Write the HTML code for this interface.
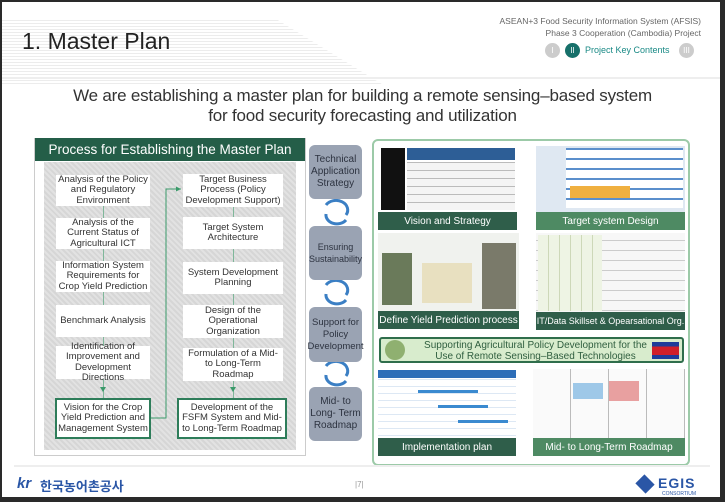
<!DOCTYPE html><html><head><meta charset="utf-8"><style>
*{margin:0;padding:0;box-sizing:border-box}
body{width:725px;height:502px;background:#2a2a2a;position:relative;overflow:hidden;font-family:"Liberation Sans","Noto Sans CJK KR",sans-serif}
.a{position:absolute}
.slide{left:2px;top:2px;width:718px;height:495px;background:#fff}
.bx{position:absolute;background:#fff;display:flex;align-items:center;justify-content:center;text-align:center;font-size:9.5px;line-height:10.5px;color:#333;padding:0 1px}
.g{border:2px solid #2e7d5a;padding:0}
.mid{position:absolute;left:309px;width:53px;background:#9aa3b3;border-radius:6px;display:flex;align-items:center;justify-content:center;text-align:center;font-size:10px;line-height:12px;color:#2d3340}
.tile{position:absolute;overflow:hidden}
.lab{position:absolute;left:0;right:0;bottom:0;height:18px;background:#2f5e4a;color:#fff;font-size:10px;white-space:nowrap;display:flex;align-items:center;justify-content:center}
.lab2{background:#4e8a63}
.vl{position:absolute;width:1px;background:#7fb79a}
</style></head><body>
<div class="a slide"></div>
<div class="a" style="left:2px;top:20px;width:383px;height:66px;background:repeating-linear-gradient(0deg,#fff 0 2px,#ececec 2px 3px);clip-path:polygon(0 0,72% 0,100% 100%,0 100%)"></div>
<div class="a" style="left:22px;top:28px;font-size:23px;color:#222">1. Master Plan</div>
<div class="a" style="right:24px;top:15px;font-size:8.5px;color:#666;text-align:right;line-height:12px">ASEAN+3 Food Security Information System (AFSIS)<br>Phase 3 Cooperation (Cambodia) Project</div>
<div class="a" style="left:545px;top:43px;width:15px;height:15px;border-radius:50%;background:#ccc;color:#fff;font-size:8px;text-align:center;line-height:15px">I</div>
<div class="a" style="left:565px;top:43px;width:15px;height:15px;border-radius:50%;background:#17706a;color:#fff;font-size:8px;text-align:center;line-height:15px">II</div>
<div class="a" style="left:585px;top:45px;font-size:9px;color:#1a8a86">Project Key Contents</div>
<div class="a" style="left:679px;top:43px;width:15px;height:15px;border-radius:50%;background:#ccc;color:#fff;font-size:8px;text-align:center;line-height:15px">III</div>
<div class="a" style="left:2px;top:77px;width:718px;height:2px;background:#eee"></div>
<div class="a" style="left:0;width:725px;top:86px;text-align:center;font-size:17px;line-height:20px;color:#333;letter-spacing:-0.2px">We are establishing a master plan for building a remote sensing–based system<br>for food security forecasting and utilization</div>

<div class="a" style="left:34px;top:138px;width:272px;height:318px;border:1px solid #ccc;background:#fff"></div>
<div class="a" style="left:35px;top:138px;width:270px;height:23px;background:#245e48;color:#fff;font-size:13.5px;text-align:center;line-height:23px">Process for Establishing the Master Plan</div>
<div class="a" style="left:44px;top:162px;width:252px;height:288px;background:repeating-linear-gradient(45deg,#e2e2e2 0 2px,#d6d6d6 2px 4px)"></div>
<div class="vl" style="left:103px;top:205px;height:195px"></div>
<div class="vl" style="left:233px;top:205px;height:195px"></div>
<div class="bx" style="left:56px;top:175px;width:94px;height:31px">Analysis of the Policy and Regulatory Environment</div>
<div class="bx" style="left:56px;top:218px;width:94px;height:31px">Analysis of the Current Status of Agricultural ICT</div>
<div class="bx" style="left:56px;top:261px;width:94px;height:31px">Information System Requirements for Crop Yield Prediction</div>
<div class="bx" style="left:56px;top:305px;width:94px;height:32px">Benchmark Analysis</div>
<div class="bx" style="left:56px;top:346px;width:94px;height:33px">Identification of Improvement and Development Directions</div>
<div class="bx g" style="left:55px;top:398px;width:96px;height:41px">Vision for the Crop Yield Prediction and Management System</div>
<div class="bx" style="left:183px;top:174px;width:100px;height:33px">Target Business Process (Policy Development Support)</div>
<div class="bx" style="left:183px;top:217px;width:100px;height:32px">Target System Architecture</div>
<div class="bx" style="left:183px;top:262px;width:100px;height:32px">System Development Planning</div>
<div class="bx" style="left:183px;top:305px;width:100px;height:33px">Design of the Operational Organization</div>
<div class="bx" style="left:183px;top:348px;width:100px;height:33px">Formulation of a Mid- to Long-Term Roadmap</div>
<div class="bx g" style="left:177px;top:398px;width:110px;height:41px">Development of the FSFM System and Mid- to Long-Term Roadmap</div>
<svg class="a" style="left:0;top:0" width="725" height="502"><polyline points="151,418 166,418 166,189 181,189" fill="none" stroke="#3a9a6a" stroke-width="1"/><path d="M181,189 l-5,-2.5 v5z" fill="#3a9a6a"/>
<path d="M103,392 l-3,-5 h6z M233,392 l-3,-5 h6z" fill="#3a9a6a"/>
<g fill="none" stroke="#3b7fc4" stroke-width="3"><path d="M326,205 a11,9 0 0 1 20,10"/><path d="M346,220 a11,9 0 0 1 -20,-6"/><path d="M326,285 a11,9 0 0 1 20,10"/><path d="M346,300 a11,9 0 0 1 -20,-6"/><path d="M326,366 a11,9 0 0 1 20,10"/><path d="M346,381 a11,9 0 0 1 -20,-6"/></g></svg>
<div class="mid" style="top:145px;height:54px">Technical Application Strategy</div>
<div class="mid" style="top:226px;height:54px;font-size:9px">Ensuring Sustainability</div>
<div class="mid" style="top:307px;height:55px;font-size:9.5px">Support for Policy Development</div>
<div class="mid" style="top:387px;height:54px">Mid- to Long- Term Roadmap</div>

<div class="a" style="left:372px;top:139px;width:318px;height:327px;border:2px solid #9ccaa8;border-radius:6px"></div>
<div class="tile" style="left:378px;top:146px;width:139px;height:84px;background:#fff"><div class="a" style="left:3px;top:2px;width:24px;height:62px;background:#111"></div><div class="a" style="left:29px;top:2px;width:108px;height:12px;background:#2d5e96"></div><div class="a" style="left:29px;top:16px;width:108px;height:48px;background:repeating-linear-gradient(0deg,#f4f4f4 0 7px,#bbb 7px 8px)"></div><div class="lab">Vision and Strategy</div></div>
<div class="tile" style="left:536px;top:146px;width:149px;height:84px;background:#dfe8f2"><div class="a" style="left:30px;top:2px;width:117px;height:60px;background:repeating-linear-gradient(0deg,#fff 0 8px,#5b8fcc 8px 10px)"></div><div class="a" style="left:34px;top:40px;width:60px;height:12px;background:#f0b040"></div><div class="lab lab2">Target system Design</div></div>
<div class="tile" style="left:378px;top:233px;width:141px;height:96px;background:#f0f2ee"><div class="a" style="left:4px;top:20px;width:30px;height:52px;background:#6a7a5a"></div><div class="a" style="left:104px;top:10px;width:34px;height:66px;background:#7a7a6a"></div><div class="a" style="left:44px;top:30px;width:50px;height:40px;background:#e8e0c0"></div><div class="lab">Define Yield Prediction process</div></div>
<div class="tile" style="left:536px;top:233px;width:149px;height:97px;background:repeating-linear-gradient(0deg,#f7f7f7 0 9px,#ccc 9px 10px)"><div class="a" style="left:2px;top:2px;width:64px;height:76px;background:repeating-linear-gradient(90deg,#eef4e4 0 10px,#cdd8b8 10px 11px)"></div><div class="lab" style="font-size:9px">IT/Data Skillset &amp; Opearsational Org.</div></div>
<div class="a" style="left:379px;top:337px;width:305px;height:26px;background:#d8eccd;border:2px solid #2f6e4c;border-radius:3px;text-align:center;font-size:10px;line-height:11px;color:#2f5e3f;padding-top:1px;padding-left:8px">Supporting Agricultural Policy Development for the<br>Use of Remote Sensing–Based Technologies</div>
<div class="a" style="left:385px;top:340px;width:20px;height:20px;border-radius:50%;background:#8fb070"></div>
<div class="a" style="left:652px;top:342px;width:27px;height:17px;background:linear-gradient(#1e3c9a 0 25%,#d0202a 25% 75%,#1e3c9a 75%)"></div>
<div class="tile" style="left:378px;top:370px;width:138px;height:86px;background:repeating-linear-gradient(0deg,#fff 0 6px,#dde8f4 6px 7px)"><div class="a" style="left:0;top:0;width:138px;height:8px;background:#2d6eb8"></div><div class="a" style="left:40px;top:20px;width:60px;height:3px;background:#3a8ad0"></div><div class="a" style="left:60px;top:35px;width:50px;height:3px;background:#3a8ad0"></div><div class="a" style="left:80px;top:50px;width:50px;height:3px;background:#3a8ad0"></div><div class="lab">Implementation plan</div></div>
<div class="tile" style="left:533px;top:369px;width:152px;height:87px;background:repeating-linear-gradient(90deg,#fafafa 0 37px,#bbb 37px 38px)"><div class="a" style="left:40px;top:14px;width:30px;height:16px;background:#9ec8e8"></div><div class="a" style="left:76px;top:12px;width:30px;height:20px;background:#e8a0a0"></div><div class="lab lab2">Mid- to Long-Term Roadmap</div></div>

<div class="a" style="left:14px;top:465px;width:696px;height:2px;background:#eee"></div>
<div class="a" style="left:17px;top:475px;font-size:15px;color:#2a56a6;font-weight:bold;font-style:italic">kr</div>
<div class="a" style="left:40px;top:476px;font-size:13px;color:#2a56a6;font-weight:bold">한국농어촌공사</div>
<div class="a" style="left:355px;top:480px;font-size:8px;color:#999">|7|</div>
<div class="a" style="left:636px;top:476px;width:18px;height:16px;background:#2a56a6;transform:rotate(45deg) scale(.8)"></div>
<div class="a" style="left:658px;top:475px;font-size:14px;color:#2a56a6;font-weight:bold;letter-spacing:1px">EGIS</div>
<div class="a" style="left:662px;top:491px;font-size:5px;color:#2a56a6">CONSORTIUM</div>
</body></html>
